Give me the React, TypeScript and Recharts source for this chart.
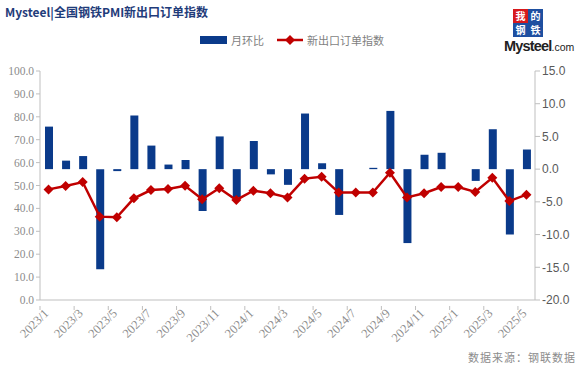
import React from 'react'
import { ComposedChart, Bar, Line, XAxis, YAxis } from 'recharts'

const months = [
  '2023/1', '2023/2', '2023/3', '2023/4', '2023/5', '2023/6', '2023/7', '2023/8', '2023/9', '2023/10',
  '2023/11', '2023/12', '2024/1', '2024/2', '2024/3', '2024/4', '2024/5', '2024/6', '2024/7', '2024/8',
  '2024/9', '2024/10', '2024/11', '2024/12', '2025/1', '2025/2', '2025/3', '2025/4', '2025/5',
]
const momChange = [
  6.5, 1.3, 2.0, -15.3, -0.3, 8.2, 3.6, 0.7, 1.4, -6.4,
  5.0, -4.3, 4.3, -0.8, -2.4, 8.5, 0.9, -7.0, 0, 0.2,
  8.9, -11.3, 2.2, 2.5, 0, -1.8, 6.1, -10.0, 3.0,
]
const exportIndex = [
  48.3, 49.8, 51.5, 36.4, 36.1, 44.4, 48.0, 48.5, 49.9, 44.0,
  48.8, 43.7, 47.7, 46.6, 44.8, 53.0, 53.8, 46.9, 46.9, 46.9,
  55.6, 44.8, 46.6, 49.3, 49.3, 47.2, 53.4, 43.2, 46.0,
]
const leftTicks = [0, 10, 20, 30, 40, 50, 60, 70, 80, 90, 100]
const rightTicks = [-20, -15, -10, -5, 0, 5, 10, 15]

const data = months.map((m, i) => ({ month: m, mom: momChange[i], idx: exportIndex[i] }))

const BLUE = '#0a3a8a'
const RED = '#c00000'
const AXIS = '#bfbfbf'
const HALF_BAND = 495 / 29 / 2

function XTick(props: any) {
  const { x, y, index, payload } = props
  if (index % 2 !== 0) return null
  return (
    <g>
      <line x1={x - HALF_BAND} x2={x - HALF_BAND} y1={y - 2} y2={y + 2} stroke={AXIS} />
      <text
        transform={`translate(${x + 1},${y + 6}) rotate(-45)`}
        textAnchor="end"
        fontSize={12.5}
        fill="#8c8c8c"
        fontFamily="'Liberation Serif', serif"
      >
        {payload.value}
      </text>
    </g>
  )
}

function Diamond(props: any) {
  const { cx, cy } = props
  if (cx == null || cy == null) return null
  const r = 5
  return <polygon points={`${cx},${cy - r} ${cx + r},${cy} ${cx},${cy + r} ${cx - r},${cy}`} fill={RED} />
}

const logoCells = [
  { ch: '我', col: 0, row: 0, bg: '#d7191c' },
  { ch: '的', col: 1, row: 0, bg: '#1e4fa0' },
  { ch: '钢', col: 0, row: 1, bg: '#1e4fa0' },
  { ch: '铁', col: 1, row: 1, bg: '#1e4fa0' },
]

function Logo() {
  return (
    <svg width={83} height={56} style={{ position: 'absolute', left: 500, top: 5 }}>
      {logoCells.map((c) => (
        <g key={c.ch}>
          <rect x={13 + c.col * 15} y={4 + c.row * 14} width={15} height={14} fill={c.bg} />
          <text
            x={13 + c.col * 15 + 7.5}
            y={4 + c.row * 14 + 10.5}
            textAnchor="middle"
            fontSize={10}
            fontWeight={700}
            fill="#fff"
            fontFamily="'Noto Sans CJK SC', sans-serif"
          >
            {c.ch}
          </text>
        </g>
      ))}
      <text x={4} y={46} fill="#222" fontFamily="'Liberation Sans', Arial, sans-serif">
        <tspan fontSize={14.5} fontWeight={700} letterSpacing={-0.8}>Mysteel</tspan>
        <tspan fontSize={10.5}>.com</tspan>
      </text>
    </svg>
  )
}

export default function App() {
  return (
    <div style={{ position: 'absolute', left: 0, top: 0, width: 583, height: 372, background: '#fff', fontFamily: "'Noto Sans CJK SC', sans-serif" }}>
      <div style={{ position: 'absolute', left: 5, top: 3, fontSize: 12, fontWeight: 700, color: '#1f3c7a', whiteSpace: 'nowrap' }}>
        Mysteel|全国钢铁PMI新出口订单指数
      </div>

      <Logo />

      {/* legend */}
      <div style={{ position: 'absolute', left: 200, top: 32, display: 'flex', alignItems: 'center', fontSize: 11, color: '#7f7f7f', whiteSpace: 'nowrap' }}>
        <div style={{ width: 27, height: 8, background: BLUE, marginRight: 4 }} />
        <span>月环比</span>
        <svg width={26} height={12} style={{ marginLeft: 13, marginRight: 4 }}>
          <line x1={0} x2={26} y1={6} y2={6} stroke={RED} strokeWidth={2.5} />
          <polygon points="13,1 18,6 13,11 8,6" fill={RED} />
        </svg>
        <span>新出口订单指数</span>
      </div>

      <ComposedChart
        width={583}
        height={372}
        data={data}
        margin={{ top: 71, right: 4, left: 4, bottom: 22 }}
      >
        <XAxis
          dataKey="month"
          interval={0}
          tick={<XTick />}
          tickLine={false}
          axisLine={{ stroke: AXIS }}
          height={50}
        />
        <YAxis
          yAxisId="left"
          domain={[0, 100]}
          ticks={leftTicks}
          tickFormatter={(v: number) => v.toFixed(1)}
          width={36}
          axisLine={{ stroke: AXIS }}
          tickLine={{ stroke: AXIS }}
          tickSize={4}
          tick={{ fontSize: 11.5, fill: '#8c8c8c', fontFamily: "'Liberation Serif', serif" }}
        />
        <YAxis
          yAxisId="right"
          orientation="right"
          domain={[-20, 15]}
          ticks={rightTicks}
          tickFormatter={(v: number) => v.toFixed(1)}
          width={44}
          axisLine={{ stroke: AXIS }}
          tickLine={{ stroke: AXIS }}
          tickSize={5}
          tick={{ fontSize: 12, fill: '#595959', fontFamily: "'Liberation Sans', sans-serif" }}
        />
        <Bar yAxisId="right" dataKey="mom" fill={BLUE} barSize={8} isAnimationActive={false} />
        <Line
          yAxisId="left"
          dataKey="idx"
          stroke={RED}
          strokeWidth={2.5}
          dot={<Diamond />}
          activeDot={false}
          isAnimationActive={false}
        />
      </ComposedChart>

      <div style={{ position: 'absolute', left: 468, top: 349, fontSize: 11, color: '#8c8c8c', whiteSpace: 'nowrap', letterSpacing: 1 }}>
        数据来源：钢联数据
      </div>
    </div>
  )
}
